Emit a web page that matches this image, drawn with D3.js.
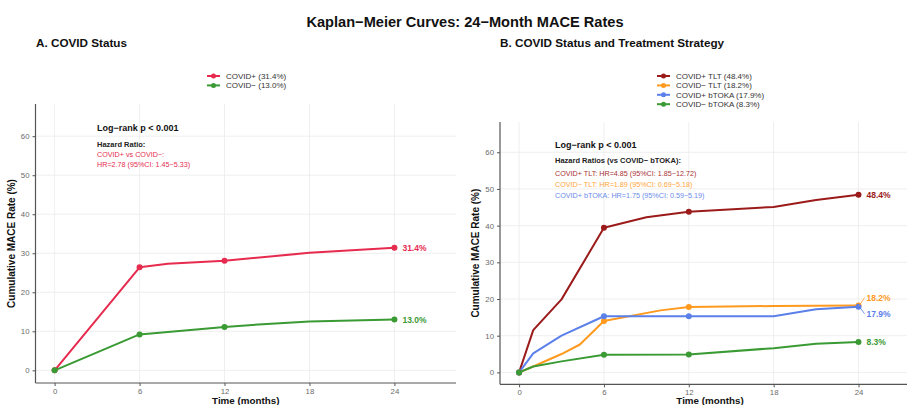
<!DOCTYPE html>
<html>
<head>
<meta charset="utf-8">
<script src="https://cdn.jsdelivr.net/npm/d3@7"></script>
<style>
  body { margin: 0; background: #fff; }
  svg { font-family: "Liberation Sans", Arial, sans-serif; display: block; }
</style>
</head>
<body>
<div id="chart"></div>
<script>
// data
const monthsTicks = [0, 6, 12, 18, 24];
const rateTicks = [0, 10, 20, 30, 40, 50, 60];

const covidPosA = [[0, 0], [6, 26.4], [8, 27.3], [12, 28.1], [18, 30.1], [24, 31.4]];
const covidNegA = [[0, 0], [6, 9.2], [12, 11.1], [15, 11.9], [18, 12.5], [24, 13.0]];

const posTLT = [[0, 0], [1, 11.5], [3, 19.9], [6, 39.4], [9, 42.3], [12, 43.8], [18, 45.1], [21, 47.0], [24, 48.4]];
const negTLT = [[0, 0], [1, 1.6], [3, 5.0], [4.3, 7.6], [6, 14.0], [10, 16.9], [12, 17.8], [18, 18.1], [24, 18.2]];
const posBTOKA = [[0, 0], [1, 5.2], [3, 10.0], [6, 15.3], [12, 15.3], [18, 15.3], [21, 17.2], [24, 17.9]];
const negBTOKA = [[0, 0], [1, 1.6], [3, 3.0], [6, 4.8], [12, 4.9], [18, 6.6], [21, 7.8], [24, 8.3]];

const markerMonths = [0, 6, 12, 24];

const seriesA = [
  { name: "COVID+ (31.4%)", color: "#E62B4F", values: covidPosA, end: "31.4%", dy: 0 },
  { name: "COVID\u2212 (13.0%)", color: "#3A9A34", values: covidNegA, end: "13.0%", dy: 0 }
];
const seriesB = [
  { name: "COVID+ TLT (48.4%)", color: "#9B1B1B", values: posTLT, end: "48.4%", dy: 0 },
  { name: "COVID\u2212 TLT (18.2%)", color: "#FF9A1F", values: negTLT, end: "18.2%", dy: -8 },
  { name: "COVID+ bTOKA (17.9%)", color: "#5B80EA", values: posBTOKA, end: "17.9%", dy: 7 },
  { name: "COVID\u2212 bTOKA (8.3%)", color: "#3A9A34", values: negBTOKA, end: "8.3%", dy: 0 }
];

const W = 907, H = 405;
const svg = d3.select("#chart").append("svg").attr("width", W).attr("height", H);

svg.append("text")
  .attr("x", 465).attr("y", 27)
  .attr("text-anchor", "middle")
  .attr("font-size", 14.6).attr("font-weight", "bold").attr("fill", "#111")
  .text("Kaplan\u2212Meier Curves: 24\u2212Month MACE Rates");

function panel(opts) {
  const { left, right, top, bottom, title, titleX, series, legendX, legendY, notes, noteX, noteY, yTitleX } = opts;
  const g = svg.append("g");

  const x = d3.scaleLinear().domain([-1.35, 28.35]).range([left, right]);
  const y = d3.scaleLinear().domain([-3.25, 68.25]).range([bottom, top]);

  g.append("text")
    .attr("x", titleX).attr("y", 47)
    .attr("font-size", 11.7).attr("font-weight", "bold").attr("fill", "#111")
    .text(title);

  const clipId = "clip" + Math.round(left);
  g.append("clipPath").attr("id", clipId)
    .append("rect").attr("x", left).attr("y", top).attr("width", right - left).attr("height", bottom - top);

  const grid = g.append("g").attr("clip-path", `url(#${clipId})`);
  grid.selectAll(".gx").data(monthsTicks).join("line")
    .attr("x1", d => x(d)).attr("x2", d => x(d))
    .attr("y1", top).attr("y2", bottom)
    .attr("stroke", "#ebebeb").attr("stroke-width", 0.8);
  grid.selectAll(".gy").data(rateTicks).join("line")
    .attr("x1", left).attr("x2", right)
    .attr("y1", d => y(d)).attr("y2", d => y(d))
    .attr("stroke", "#ebebeb").attr("stroke-width", 0.8);

  // axes
  const xAxis = g.append("g").attr("transform", `translate(0,${bottom})`)
    .call(d3.axisBottom(x).tickValues(monthsTicks).tickSize(3).tickPadding(2));
  const yAxis = g.append("g").attr("transform", `translate(${left},0)`)
    .call(d3.axisLeft(y).tickValues(rateTicks).tickSize(3).tickPadding(3));
  [xAxis, yAxis].forEach(a => {
    a.select(".domain").attr("stroke", "#555").attr("stroke-width", 1.2);
    a.selectAll(".tick line").attr("stroke", "#555");
    a.selectAll(".tick text").attr("fill", "#6b6b6b").attr("font-size", 7.8)
      .attr("font-family", "Liberation Sans, Arial, sans-serif");
  });
  xAxis.select(".domain").attr("d", `M${left},0H${right}`);
  yAxis.select(".domain").attr("d", `M0,${bottom}V${top}`);

  g.append("text")
    .attr("x", (left + right) / 2).attr("y", 404)
    .attr("text-anchor", "middle")
    .attr("font-size", 9.8).attr("font-weight", "bold").attr("fill", "#111")
    .text("Time (months)");
  g.append("text")
    .attr("transform", `translate(${yTitleX},${(top + bottom) / 2}) rotate(-90)`)
    .attr("text-anchor", "middle")
    .attr("font-size", 10).attr("font-weight", "bold").attr("fill", "#111")
    .text("Cumulative MACE Rate (%)");

  // annotation text
  notes.forEach(n => {
    g.append("text")
      .attr("x", noteX).attr("y", noteY + n.dy)
      .attr("font-size", n.size).attr("font-weight", n.bold ? "bold" : "normal")
      .attr("fill", n.color)
      .text(n.text);
  });

  const line = d3.line().x(d => x(d[0])).y(d => y(d[1]));
  const plot = g.append("g").attr("clip-path", `url(#${clipId})`);

  series.forEach(s => {
    plot.append("path")
      .attr("d", line(s.values))
      .attr("fill", "none").attr("stroke", s.color).attr("stroke-width", 2)
      .attr("stroke-linejoin", "round");
  });
  series.forEach(s => {
    plot.selectAll(null).data(s.values.filter(d => markerMonths.includes(d[0]))).join("circle")
      .attr("cx", d => x(d[0])).attr("cy", d => y(d[1])).attr("r", 3)
      .attr("fill", s.color);
  });

  // end labels
  series.forEach(s => {
    const last = s.values[s.values.length - 1];
    const px = x(last[0]), py = y(last[1]);
    if (s.dy !== 0) {
      g.append("line")
        .attr("x1", px + 1).attr("y1", py)
        .attr("x2", px + 6).attr("y2", py + s.dy)
        .attr("stroke", s.color).attr("stroke-width", 0.8);
    }
    g.append("text")
      .attr("x", px + 8).attr("y", py + s.dy + 3)
      .attr("font-size", 8.5).attr("font-weight", "bold").attr("fill", s.color)
      .text(s.end);
  });

  // legend
  series.forEach((s, i) => {
    const ly = legendY + i * 9.4;
    g.append("line")
      .attr("x1", legendX).attr("x2", legendX + 13)
      .attr("y1", ly).attr("y2", ly)
      .attr("stroke", s.color).attr("stroke-width", 2);
    g.append("circle").attr("cx", legendX + 6.5).attr("cy", ly).attr("r", 2.5).attr("fill", s.color);
    g.append("text")
      .attr("x", legendX + 19).attr("y", ly + 3)
      .attr("font-size", 8).attr("fill", "#333")
      .text(s.name);
  });
}

panel({
  left: 35.5, right: 456, top: 104, bottom: 383,
  title: "A. COVID Status", titleX: 36,
  series: seriesA, legendX: 207, legendY: 76,
  yTitleX: 15,
  noteX: 97, noteY: 131,
  notes: [
    { text: "Log\u2212rank p < 0.001", size: 9, bold: true, color: "#111", dy: 0 },
    { text: "Hazard Ratio:", size: 7.5, bold: true, color: "#222", dy: 16 },
    { text: "COVID+ vs COVID\u2212:", size: 7.2, bold: false, color: "#E62B4F", dy: 26 },
    { text: "HR=2.78 (95%CI: 1.45\u22125.33)", size: 7.2, bold: false, color: "#E62B4F", dy: 36 }
  ]
});

panel({
  left: 500, right: 920, top: 122, bottom: 384.3,
  title: "B. COVID Status and Treatment Strategy", titleX: 500,
  series: seriesB, legendX: 657, legendY: 76,
  yTitleX: 479,
  noteX: 555, noteY: 148,
  notes: [
    { text: "Log\u2212rank p < 0.001", size: 9, bold: true, color: "#111", dy: 0 },
    { text: "Hazard Ratios (vs COVID\u2212 bTOKA):", size: 7.5, bold: true, color: "#222", dy: 15 },
    { text: "COVID+ TLT: HR=4.85 (95%CI: 1.85\u221212.72)", size: 7.2, bold: false, color: "#A83232", dy: 27.5 },
    { text: "COVID\u2212 TLT: HR=1.89 (95%CI: 0.69\u22125.18)", size: 7.2, bold: false, color: "#FFA53A", dy: 38.5 },
    { text: "COVID+ bTOKA: HR=1.75 (95%CI: 0.59\u22125.19)", size: 7.2, bold: false, color: "#6A8BEA", dy: 49.5 }
  ]
});
</script>
</body>
</html>
